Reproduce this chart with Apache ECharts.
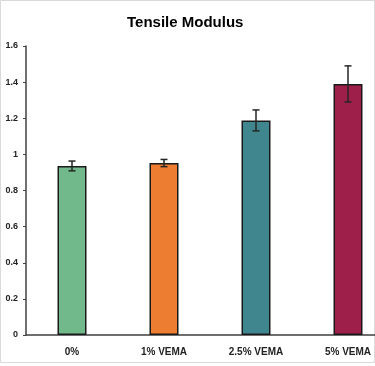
<!DOCTYPE html>
<html><head><meta charset="utf-8">
<script src="https://cdn.jsdelivr.net/npm/echarts@6/dist/echarts.min.js"></script>
<style>html,body{margin:0;padding:0;background:#fff;overflow:hidden;width:375px;height:366px}#c{width:396px;height:366px}</style>
</head><body><div id="c"></div>
<script>
const categories = ['0%', '1% VEMA', '2.5% VEMA', '5% VEMA'];
const values = [0.936, 0.952, 1.188, 1.39];
const errors = [0.027, 0.02, 0.058, 0.1];
const colors = ['#71b98a', '#ed7d31', '#40868f', '#9e1f49'];
const yTicks = { min: 0, max: 1.6, interval: 0.2 };

const chart = echarts.init(document.getElementById('c'), null, { renderer: 'canvas' });
const font = '"Liberation Sans", "Open Sans", sans-serif';
chart.setOption({
  animation: false,
  title: { text: 'Tensile Modulus', left: 122, top: 10,
    textStyle: { fontFamily: font, fontWeight: 'bold', fontSize: 15, color: '#000' } },
  graphic: [{ type: 'rect', shape: { x: 0.5, y: 0.5, width: 374, height: 362 },
    style: { fill: 'none', stroke: '#d9d9d9', lineWidth: 1 }, silent: true }],
  grid: { left: 26, top: 46, right: 2, bottom: 31, outerBoundsMode: 'none' },
  xAxis: {
    type: 'category', data: categories,
    axisLine: { lineStyle: { color: '#404040', width: 1.5 } },
    axisTick: { alignWithLabel: true, length: 3, lineStyle: { color: '#404040' } },
    axisLabel: { fontFamily: font, fontWeight: 'bold', fontSize: 10, color: '#222', margin: 12 }
  },
  yAxis: {
    type: 'value', min: yTicks.min, max: yTicks.max, interval: yTicks.interval,
    splitLine: { show: false },
    axisLine: { show: true, lineStyle: { color: '#404040', width: 1.5 } },
    axisTick: { show: true, length: 3, lineStyle: { color: '#404040' } },
    axisLabel: { fontFamily: font, fontWeight: 'bold', fontSize: 9, color: '#222', margin: 8,
      formatter: v => String(Math.round(v * 10) / 10) }
  },
  series: [
    { type: 'bar', barWidth: 29,
      data: values.map((v, i) => ({ value: v, itemStyle: { color: colors[i] } })),
      itemStyle: { borderColor: '#1a1a1a', borderWidth: 1.5 } },
    { type: 'custom', z: 10,
      data: values.map((v, i) => [i, v - errors[i], v + errors[i]]),
      renderItem: (params, api) => {
        const lo = api.coord([api.value(0), api.value(1)]);
        const hi = api.coord([api.value(0), api.value(2)]);
        const x = lo[0], w = 3.5;
        const st = { stroke: '#262626', lineWidth: 1.5 };
        return { type: 'group', children: [
          { type: 'line', shape: { x1: x, y1: lo[1], x2: x, y2: hi[1] }, style: st },
          { type: 'line', shape: { x1: x - w, y1: lo[1], x2: x + w, y2: lo[1] }, style: st },
          { type: 'line', shape: { x1: x - w, y1: hi[1], x2: x + w, y2: hi[1] }, style: st }
        ] };
      } }
  ]
});
</script></body></html>
